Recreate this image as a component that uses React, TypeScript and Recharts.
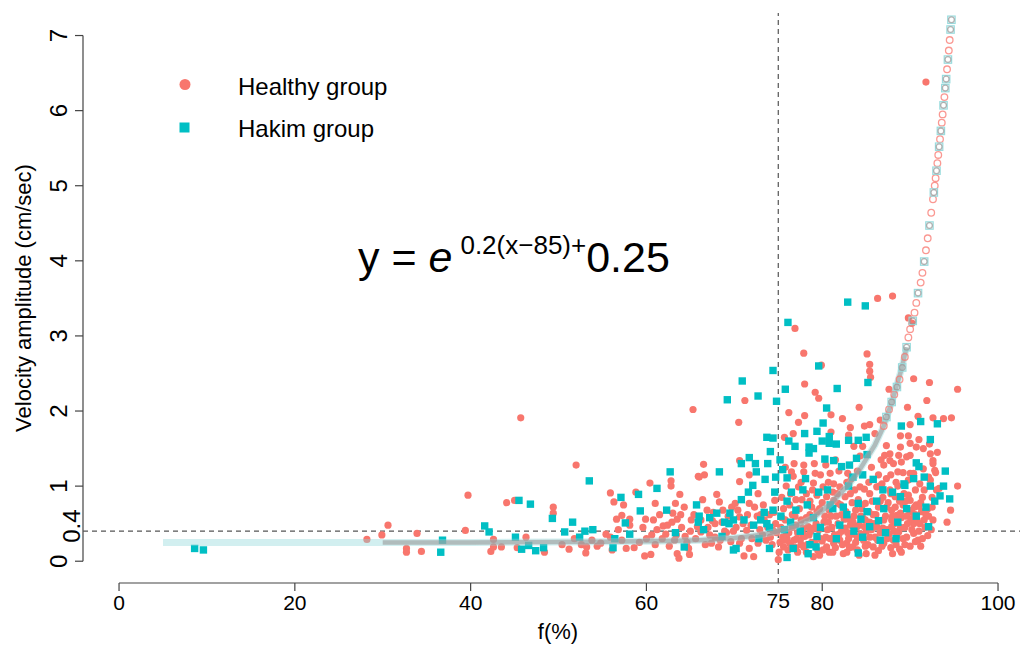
import { ReferenceLine, Scatter, ScatterChart, XAxis, YAxis } from "recharts";

const FONT = "'Liberation Sans', Arial, Helvetica, sans-serif";
const HEALTHY = "#F8766D";
const HAKIM = "#00BFC4";

const X_MIN = -4.1;
const X_MAX = 102.5;
const Y_MIN = -0.29;
const Y_MAX = 7.3;

const xTicks = [0, 20, 40, 60, 75, 80, 100];
const yTicks = [0, 0.4, 1, 2, 3, 4, 5, 6, 7];

// Healthy group [f(%), velocity amplitude]
const healthyPoints: [number, number][] = [
  [28.2, 0.29], [29.9, 0.35], [30.6, 0.48], [32.7, 0.17], [32.7, 0.12], [33.9, 0.37], [34.4, 0.13],
  [39.4, 0.41], [39.7, 0.88], [42.3, 0.13], [42.6, 0.29], [42.6, 0.19], [43.5, 0.19], [44.1, 0.78],
  [45.0, 0.81], [45.3, 0.18], [45.7, 1.91], [46.3, 0.32], [48.4, 0.12], [49.4, 0.72], [49.4, 0.64],
  [50.4, 0.22], [51.2, 0.16], [51.8, 0.3], [52.0, 1.28], [52.6, 0.22], [53.1, 0.11], [53.2, 0.19],
  [53.8, 0.28], [54.4, 0.2], [54.8, 0.24], [55.4, 0.36], [55.9, 0.91], [55.9, 0.32], [56.1, 0.15],
  [56.3, 0.79], [56.6, 0.56], [56.8, 0.42], [57.2, 0.61], [57.2, 0.28], [57.4, 0.75], [57.7, 0.17],
  [58.1, 0.56], [58.1, 0.48], [58.6, 0.18], [58.8, 0.92], [59.2, 0.25], [59.6, 0.45], [59.8, 0.07],
  [59.9, 0.56], [60.0, 0.3], [60.4, 1.04], [60.5, 0.09], [60.6, 0.35], [61.0, 0.77], [61.0, 0.22],
  [61.2, 0.42], [61.8, 0.3], [61.9, 0.47], [62.4, 0.48], [62.6, 0.2], [62.8, 1.0], [62.8, 1.07],
  [63.0, 0.64], [63.2, 0.28], [63.3, 0.77], [63.4, 0.35], [63.5, 0.56], [63.5, 0.1], [63.7, 0.04],
  [63.8, 0.89], [64.0, 0.45], [64.4, 0.33], [64.6, 0.25], [64.8, 0.17], [64.9, 0.09], [65.0, 0.4],
  [65.1, 0.55], [65.3, 2.02], [65.6, 0.3], [65.9, 1.13], [66.0, 1.12], [66.2, 0.39], [66.2, 0.55],
  [66.5, 1.29], [66.6, 1.15], [66.7, 0.22], [66.9, 0.68], [67.2, 0.35], [67.4, 0.24], [67.5, 0.54],
  [67.8, 0.5], [67.8, 0.32], [68.0, 0.89], [68.2, 0.19], [68.3, 0.79], [68.4, 0.28], [68.7, 0.68],
  [68.9, 0.4], [69.1, 0.38], [69.6, 0.26], [69.7, 0.72], [70.1, 0.77], [70.2, 0.45], [70.5, 1.85],
  [70.6, 1.34], [70.6, 1.06], [70.6, 0.24], [70.6, 0.59], [70.8, 0.3], [71.1, 0.07], [71.2, 2.14],
  [71.4, 0.41], [71.5, 0.62], [71.7, 1.15], [71.7, 0.77], [71.7, 0.17], [72.0, 0.3], [72.2, 0.06],
  [72.6, 0.6], [72.7, 0.9], [72.7, 0.24], [72.9, 0.42], [73.2, 0.35], [73.3, 0.75], [73.4, 0.55],
  [73.6, 0.28], [74.0, 0.62], [74.1, 0.32], [74.3, 0.22], [74.4, 0.41], [74.6, 0.81], [74.7, 0.5],
  [74.8, 0.38], [75.0, 0.02],
  [75.2, 0.25], [75.3, 0.45], [75.4, 0.85], [75.5, 0.32], [75.6, 0.19], [75.6, 0.7], [75.7, 1.65],
  [75.8, 1.25], [75.8, 0.55], [75.9, 1.0], [76.0, 0.3], [76.1, 0.15], [76.2, 0.38], [76.2, 1.98],
  [76.3, 0.24], [76.3, 0.75], [76.5, 1.19], [76.6, 0.62], [76.6, 0.45], [76.7, 1.7], [76.7, 1.13],
  [76.8, 0.28], [76.9, 3.1], [77.0, 0.48], [77.0, 0.82], [77.0, 0.18], [77.2, 0.12], [77.3, 0.99],
  [77.3, 1.85], [77.4, 0.7], [77.5, 0.28], [77.6, 0.22], [77.6, 1.05], [77.6, 0.55], [77.8, 0.36],
  [77.9, 2.77], [77.9, 1.28], [77.9, 1.19], [77.9, 0.19], [78.0, 2.36], [78.0, 1.94], [78.0, 0.33],
  [78.2, 0.58], [78.2, 0.9], [78.2, 0.12], [78.6, 0.8], [78.6, 0.62], [78.8, 0.72], [78.8, 0.25],
  [79.0, 0.44], [79.0, 1.04], [79.0, 0.06], [79.2, 2.25], [79.2, 1.17], [79.4, 0.66], [79.4, 0.88],
  [79.5, 0.14], [79.6, 2.17], [79.7, 0.08], [79.8, 0.3], [79.8, 1.15], [79.9, 2.61], [80.0, 0.27],
  [80.0, 0.78], [80.1, 0.99], [80.2, 0.52], [80.4, 1.28], [80.4, 0.32], [80.5, 0.86], [80.5, 0.19],
  [80.6, 0.42], [80.8, 0.12], [80.8, 0.68], [80.9, 1.17], [81.0, 1.72], [81.0, 0.6], [81.0, 1.95],
  [81.2, 0.92], [81.3, 1.03], [81.3, 0.81], [81.3, 0.24], [81.4, 0.35], [81.5, 0.18], [81.6, 0.6],
  [81.8, 0.77], [81.8, 0.5], [81.9, 1.2], [82.0, 0.99], [82.0, 0.28], [82.2, 0.62], [82.2, 0.4],
  [82.3, 1.9], [82.4, 0.1], [82.6, 0.86], [82.6, 0.44], [82.8, 1.05], [82.8, 0.24], [82.8, 0.12],
  [82.9, 1.17], [83.0, 1.68], [83.0, 0.56], [83.0, 0.3], [83.2, 1.78], [83.2, 0.9], [83.2, 0.48],
  [83.4, 0.36], [83.4, 0.78], [83.5, 0.19], [83.6, 1.53], [83.7, 0.95], [83.8, 0.68], [83.8, 0.25],
  [84.0, 1.2], [84.0, 0.15], [84.2, 2.05], [84.2, 0.48], [84.2, 0.08], [84.3, 0.99], [84.4, 0.36],
  [84.6, 1.53], [84.6, 0.58], [84.7, 0.28], [84.8, 0.96], [84.8, 1.8], [84.8, 0.46], [84.9, 0.77],
  [85.0, 0.4], [85.0, 0.1], [85.1, 2.76], [85.2, 0.22], [85.4, 2.62], [85.4, 2.53], [85.4, 1.82],
  [85.4, 0.9], [85.4, 0.52], [85.4, 0.32], [85.5, 2.45], [85.6, 1.25], [85.6, 0.42], [85.8, 0.62],
  [85.8, 0.19], [86.0, 1.7], [86.0, 0.32], [86.0, 0.08], [86.2, 0.99], [86.2, 0.46], [86.3, 3.5],
  [86.4, 1.15], [86.4, 0.14], [86.6, 1.88], [86.6, 0.8], [86.6, 0.38], [86.8, 1.03], [86.8, 0.2],
  [87.0, 0.55], [87.0, 1.28], [87.0, 0.24], [87.1, 1.41], [87.3, 1.54], [87.3, 1.1], [87.3, 0.72],
  [87.4, 0.42], [87.6, 2.29], [87.6, 0.36], [87.7, 1.43], [87.7, 1.34], [87.7, 0.95], [87.8, 0.9],
  [87.8, 1.15], [87.8, 0.18], [87.9, 0.68], [88.0, 3.53], [88.0, 0.1], [88.1, 1.3], [88.1, 0.28],
  [88.2, 0.5], [88.2, 0.4], [88.3, 0.86], [88.4, 1.05], [88.4, 0.22], [88.5, 0.61], [88.6, 1.0],
  [88.6, 1.19], [88.7, 1.41], [88.7, 0.39], [88.8, 0.16], [88.9, 1.67], [88.9, 0.45], [89.0, 0.58],
  [89.0, 1.32], [89.0, 0.12], [89.2, 0.75], [89.2, 1.18], [89.2, 0.3], [89.4, 0.45], [89.4, 0.22],
  [89.6, 1.39], [89.6, 0.32], [89.6, 0.6], [89.7, 2.05], [89.8, 3.24], [89.8, 1.67], [89.8, 1.08],
  [89.8, 0.88], [90.0, 1.82], [90.0, 1.57], [90.0, 1.41], [90.0, 1.17], [90.0, 0.81], [90.0, 0.2],
  [90.2, 3.17], [90.2, 0.65], [90.4, 2.43], [90.4, 1.17], [90.4, 0.5], [90.4, 0.37], [90.6, 0.95],
  [90.6, 0.26], [90.7, 1.52], [90.7, 0.75], [90.8, 0.55], [90.9, 1.93], [90.9, 0.28], [91.0, 0.73],
  [91.0, 0.4], [91.1, 1.03], [91.1, 0.5], [91.3, 0.66], [91.4, 0.85], [91.4, 0.3], [91.5, 1.5],
  [91.5, 1.23], [91.7, 0.45], [91.8, 6.38], [91.8, 0.62], [91.9, 2.14], [92.0, 0.34], [92.1, 1.12],
  [92.2, 2.38], [92.2, 1.56], [92.3, 1.43], [92.3, 1.08], [92.4, 0.42], [92.6, 1.91], [92.6, 1.34],
  [92.6, 1.3], [92.6, 0.55], [92.8, 1.21], [92.9, 1.18], [93.0, 0.95], [93.1, 1.45], [93.3, 0.97],
  [93.8, 1.9], [94.2, 0.52], [94.6, 0.68], [94.7, 1.91], [95.4, 2.29], [95.4, 1.0],
  [75.4, 0.58], [75.9, 0.36], [76.4, 0.9], [76.9, 0.6], [77.2, 0.38], [77.7, 0.82], [78.4, 0.46],
  [78.9, 0.95], [79.3, 0.5], [79.7, 0.7], [80.3, 0.6], [80.7, 1.05], [81.1, 0.45], [81.7, 0.9],
  [82.1, 0.75], [82.5, 0.56], [82.9, 0.38], [83.3, 1.1], [83.6, 0.6], [84.1, 0.82], [84.5, 0.7],
  [84.9, 0.55], [85.3, 1.05], [85.7, 0.8], [86.1, 0.62], [86.5, 1.0], [86.9, 0.85], [87.2, 0.6],
  [87.5, 0.78], [88.0, 0.6], [88.3, 0.72], [88.8, 0.8], [89.3, 0.9], [89.7, 0.5], [90.2, 0.42],
  [90.6, 0.62], [91.2, 0.78], [91.6, 0.95], [92.0, 0.7], [92.5, 0.85], [78.5, 0.35], [80.9, 0.3],
  [83.9, 0.45], [86.3, 0.28], [87.9, 0.46], [89.9, 0.68], [76.8, 1.3], [79.1, 1.3], [81.5, 1.35],
  [84.3, 1.4], [86.7, 1.35], [88.9, 1.52], [91.0, 1.62],
  [75.1, 0.12], [75.7, 0.28], [76.5, 0.2], [77.1, 0.3], [77.8, 0.44], [78.3, 0.22], [78.7, 0.4],
  [79.2, 0.24], [79.6, 0.42], [80.1, 0.15], [80.7, 0.52], [81.2, 0.12], [81.9, 0.36], [82.3, 0.22],
  [82.7, 0.66], [83.1, 0.18], [83.5, 0.52], [84.0, 0.32], [84.4, 0.6], [84.9, 0.2], [85.3, 0.66],
  [85.9, 0.5], [86.4, 0.72], [86.9, 0.44], [87.4, 0.3], [87.9, 0.55], [88.5, 0.34], [88.9, 0.64],
  [89.5, 0.8], [90.1, 0.56], [90.5, 0.72], [91.2, 0.2], [91.6, 0.55], [92.1, 0.6], [92.5, 0.72],
  [60.8, 0.55], [61.5, 0.62], [62.2, 0.36], [62.9, 0.52], [63.9, 0.62], [64.3, 0.72], [65.4, 0.62],
  [65.8, 0.46], [66.4, 0.82], [67.0, 0.45], [67.6, 0.65], [68.6, 0.52], [69.3, 0.6], [69.9, 0.4],
  [70.4, 0.68], [71.0, 0.5], [71.9, 0.48], [72.3, 0.72], [73.0, 0.62], [73.8, 0.45], [74.5, 0.65],
];

// Hakim group [f(%), velocity amplitude]
const hakimPoints: [number, number][] = [
  [8.6, 0.17], [9.6, 0.15], [36.6, 0.12], [36.8, 0.28], [41.6, 0.47], [42.1, 0.39], [45.1, 0.32],
  [45.5, 0.81], [45.8, 0.16], [46.6, 0.21], [46.8, 0.76], [47.4, 0.14], [48.3, 0.18], [49.3, 0.57],
  [50.7, 0.39], [51.6, 0.52], [52.4, 0.32], [53.0, 0.4], [53.5, 1.07], [53.9, 0.42], [56.2, 0.18],
  [56.4, 0.3], [57.1, 0.85], [57.6, 0.51], [58.1, 0.36], [59.1, 0.89], [59.3, 0.67], [61.2, 0.97],
  [62.3, 0.68], [62.7, 1.19], [63.3, 0.38], [64.3, 0.19], [65.7, 0.75], [65.9, 0.52], [66.0, 0.6],
  [66.5, 0.42], [67.2, 0.58], [68.0, 0.64], [68.3, 1.19], [68.6, 0.33], [68.9, 0.52], [69.2, 2.15],
  [69.4, 0.5], [69.5, 0.64], [69.9, 0.55], [69.9, 0.15], [70.2, 0.17], [70.8, 1.3], [70.8, 0.82],
  [70.9, 2.4], [71.1, 0.55], [71.6, 0.92], [71.7, 1.38], [72.1, 1.01], [72.2, 0.48], [72.4, 1.3],
  [72.5, 1.19], [72.7, 2.2], [72.8, 0.3], [73.0, 0.55], [73.4, 0.65], [73.5, 1.09], [73.7, 1.65],
  [73.7, 0.5], [73.8, 1.3], [74.0, 0.17], [74.0, 0.45], [74.1, 1.46], [74.4, 2.54], [74.4, 1.64],
  [74.4, 0.68], [74.6, 0.92], [74.7, 1.12], [74.8, 2.13],
  [75.2, 1.35], [75.3, 0.6], [75.5, 1.22], [75.7, 0.42], [75.8, 2.29], [76.0, 1.11], [76.0, 0.8],
  [76.0, 0.05], [76.1, 3.18], [76.2, 1.6], [76.4, 0.52], [76.5, 0.92], [76.7, 0.17], [76.9, 1.53],
  [77.0, 0.68], [77.5, 0.4], [77.8, 0.95], [78.0, 1.7], [78.1, 1.1], [78.3, 0.75], [78.4, 0.1],
  [78.5, 1.52], [78.5, 1.44], [78.6, 0.22], [79.0, 1.5], [79.0, 0.58], [79.3, 0.19], [79.4, 1.73],
  [79.4, 0.33], [79.6, 2.6], [79.6, 0.92], [79.8, 0.45], [80.0, 1.6], [80.1, 1.84], [80.3, 1.36],
  [80.5, 2.04], [80.6, 0.95], [80.8, 1.66], [80.8, 1.57], [80.9, 0.75], [81.2, 0.7], [81.3, 1.34],
  [81.6, 1.56], [81.6, 0.3], [81.7, 2.3], [82.0, 0.48], [82.2, 1.26], [82.4, 0.72], [82.8, 0.62],
  [82.9, 3.45], [83.0, 1.61], [83.0, 1.0], [83.1, 1.28], [83.5, 1.12], [83.6, 0.4], [83.9, 1.37],
  [84.1, 1.61], [84.1, 0.77], [84.1, 0.11], [84.4, 0.56], [84.6, 1.15], [84.6, 0.32], [84.9, 3.4],
  [85.0, 1.65], [85.1, 1.42], [85.1, 0.66], [85.2, 2.38], [85.4, 0.46], [85.8, 1.09], [86.2, 0.8],
  [86.4, 0.54], [86.6, 0.28], [86.9, 0.95], [87.0, 0.7], [87.2, 0.38], [88.0, 0.92], [88.4, 0.3],
  [88.6, 0.52], [88.9, 0.86], [89.0, 1.8], [89.3, 1.03], [89.4, 1.01], [89.6, 0.7], [90.4, 1.1],
  [90.7, 1.31], [90.7, 0.6], [91.0, 1.26], [91.2, 1.86], [91.6, 1.12], [91.8, 0.72], [92.1, 0.46],
  [92.3, 1.62], [92.3, 1.0], [92.8, 0.8], [93.1, 1.83], [93.4, 0.87], [93.8, 1.0], [94.0, 1.2],
  [94.5, 0.83],
];

// fitted curve
const fitBand: [number, number][] = [
  [5, 0.25], [20, 0.25], [40, 0.25], [55, 0.26], [62, 0.27], [66, 0.28], [70, 0.31], [73, 0.35],
  [75, 0.4], [77, 0.47], [79, 0.58], [81, 0.77], [83, 1.02], [84, 1.17], [85, 1.36], [86, 1.55],
  [87, 1.8], [88, 2.15], [89, 2.55], [89.6, 2.85],
];
const fitBandGrey: [number, number][] = [
  [30, 0.25], [40, 0.25], [55, 0.26], [62, 0.27], [66, 0.28], [70, 0.31], [73, 0.35],
  [75, 0.4], [77, 0.47], [79, 0.58], [81, 0.77], [83, 1.02], [84, 1.17], [85, 1.36], [86, 1.55],
  [87, 1.8], [88, 2.15], [89, 2.55], [89.6, 2.85],
];
const fitCircles: [number, number][] = [
  [87.0, 1.8], [87.6, 2.02], [88.2, 2.22], [88.8, 2.42], [89.4, 2.72], [89.8, 2.98], [90.0, 3.09],
  [90.5, 3.31], [90.7, 3.44], [91.2, 3.71], [91.4, 3.84], [91.8, 4.14], [92.0, 4.3], [92.4, 4.64],
  [92.6, 4.82], [92.8, 5.0], [92.9, 5.1], [93.1, 5.3], [93.2, 5.41], [93.4, 5.62], [93.6, 5.84],
  [93.7, 5.95], [93.9, 6.18], [94.2, 6.55], [94.4, 6.8], [94.5, 6.94],
];
const fitSquares: [number, number][] = [
  [87.3, 1.92], [87.9, 2.12], [88.5, 2.32], [89.1, 2.58], [89.6, 2.85], [90.3, 3.2], [90.9, 3.57],
  [91.6, 3.99], [92.2, 4.47], [92.7, 4.91], [93.0, 5.2], [93.3, 5.52], [93.5, 5.73], [93.8, 6.07],
  [94.0, 6.3], [94.1, 6.42], [94.3, 6.68], [94.6, 7.08], [94.7, 7.21],
];

const toPts = (a: [number, number][]) => a.map(([x, y]) => ({ x, y }));

const HealthyDot = (p: any) => <circle cx={p.cx} cy={p.cy} r={3.6} fill={HEALTHY} />;
const HakimDot = (p: any) => <rect x={p.cx - 3.7} y={p.cy - 3.7} width={7.4} height={7.4} fill={HAKIM} />;
const FitCircle = (p: any) => (
  <circle cx={p.cx} cy={p.cy} r={3.3} fill="none" stroke={HEALTHY} strokeOpacity={0.75} strokeWidth={1.3} />
);
const FitSquare = (p: any) => (
  <g>
    <rect x={p.cx - 3.7} y={p.cy - 3.7} width={7.4} height={7.4} fill="none" stroke="#9adcde" strokeWidth={1.2} />
    <circle cx={p.cx} cy={p.cy} r={2.9} fill="none" stroke="#999" strokeOpacity={0.75} strokeWidth={1.3} />
  </g>
);
const NoDot = () => <g />;

function XTick(props: any) {
  const { x, y, payload } = props;
  const v = payload.value;
  const plain = v !== 75;
  return (
    <g>
      {plain && <line x1={x} x2={x} y1={y} y2={y + 8} stroke="#444" strokeWidth={1.2} />}
      <text x={x} y={plain ? y + 27 : y + 25} textAnchor="middle" fontSize={21} fontFamily={FONT} fill="#000">
        {v}
      </text>
    </g>
  );
}

function YTick(props: any) {
  const { x, y, payload } = props;
  const v = payload.value;
  const plain = v !== 0.4;
  const bx = plain ? x - 16 : x - 3;
  const cy = plain ? y : y - 5;
  return (
    <g>
      {plain && <line x1={x - 8} x2={x} y1={y} y2={y} stroke="#444" strokeWidth={1.2} />}
      <text
        x={bx}
        y={cy}
        transform={`rotate(-90 ${bx} ${cy})`}
        textAnchor="middle"
        fontSize={24}
        fontFamily={FONT}
        fill="#000"
      >
        {v}
      </text>
    </g>
  );
}

export default function App() {
  return (
    <div style={{ position: "absolute", left: 0, top: 0, width: 1021, height: 645, background: "#fff" }}>
      <ScatterChart width={1021} height={645} margin={{ top: 13, right: 1, bottom: 61, left: 82 }}>
        <XAxis
          type="number"
          dataKey="x"
          domain={[X_MIN, X_MAX]}
          ticks={xTicks}
          interval={0}
          height={1}
          tickSize={0}
          tickMargin={0}
          axisLine={false}
          tickLine={false}
          tick={(p: any) => <XTick {...p} />}
          allowDataOverflow
        />
        <YAxis
          type="number"
          dataKey="y"
          domain={[Y_MIN, Y_MAX]}
          ticks={yTicks}
          interval={0}
          width={1}
          tickSize={0}
          tickMargin={0}
          axisLine={false}
          tickLine={false}
          tick={(p: any) => <YTick {...p} />}
          allowDataOverflow
        />
        <ReferenceLine
          segment={[{ x: X_MIN, y: 0 }, { x: X_MIN, y: 7 }]}
          stroke="#444"
          strokeWidth={1.2}
          ifOverflow="visible"
        />
        <ReferenceLine
          segment={[{ x: 0, y: Y_MIN }, { x: 100, y: Y_MIN }]}
          stroke="#444"
          strokeWidth={1.2}
          ifOverflow="visible"
        />
        <Scatter data={toPts(healthyPoints)} shape={HealthyDot} isAnimationActive={false} />
        <Scatter data={toPts(hakimPoints)} shape={HakimDot} isAnimationActive={false} />
        <Scatter
          data={toPts(fitBand)}
          shape={NoDot}
          line={{ stroke: "#8fd8da", strokeWidth: 7, strokeOpacity: 0.4 }}
          isAnimationActive={false}
        />
        <Scatter
          data={toPts(fitBandGrey)}
          shape={NoDot}
          line={{ stroke: "#999999", strokeWidth: 4.5, strokeOpacity: 0.6 }}
          isAnimationActive={false}
        />
        <Scatter data={toPts(fitCircles)} shape={FitCircle} isAnimationActive={false} />
        <Scatter data={toPts(fitSquares)} shape={FitSquare} isAnimationActive={false} />
        <ReferenceLine y={0.4} stroke="#555" strokeWidth={1.2} strokeDasharray="5 4" />
        <ReferenceLine x={75} stroke="#555" strokeWidth={1.2} strokeDasharray="5 4" />
      </ScatterChart>

      <svg
        width={1021}
        height={645}
        style={{ position: "absolute", left: 0, top: 0, pointerEvents: "none" }}
        fontFamily={FONT}
      >
        <circle cx={185} cy={84.5} r={5.5} fill={HEALTHY} />
        <rect x={179.5} y={122.5} width={10} height={10} fill={HAKIM} />
        <text x={238} y={95} fontSize={24} fill="#000">Healthy group</text>
        <text x={238} y={137} fontSize={24} fill="#000">Hakim group</text>

        <text x={358} y={272} fontSize={43} fill="#000">
          y = <tspan fontStyle="italic">e</tspan>
          <tspan fontSize={26} dx={8} dy={-18}>0.2(x−85)+</tspan>
          <tspan dy={18}>0.25</tspan>
        </text>

        <text x={558} y={639} fontSize={22} textAnchor="middle" fill="#000">f(%)</text>
        <text x={31} y={298} fontSize={22} textAnchor="middle" fill="#000" transform="rotate(-90 31 298)">
          Velocity amplitude (cm/sec)
        </text>
      </svg>
    </div>
  );
}
